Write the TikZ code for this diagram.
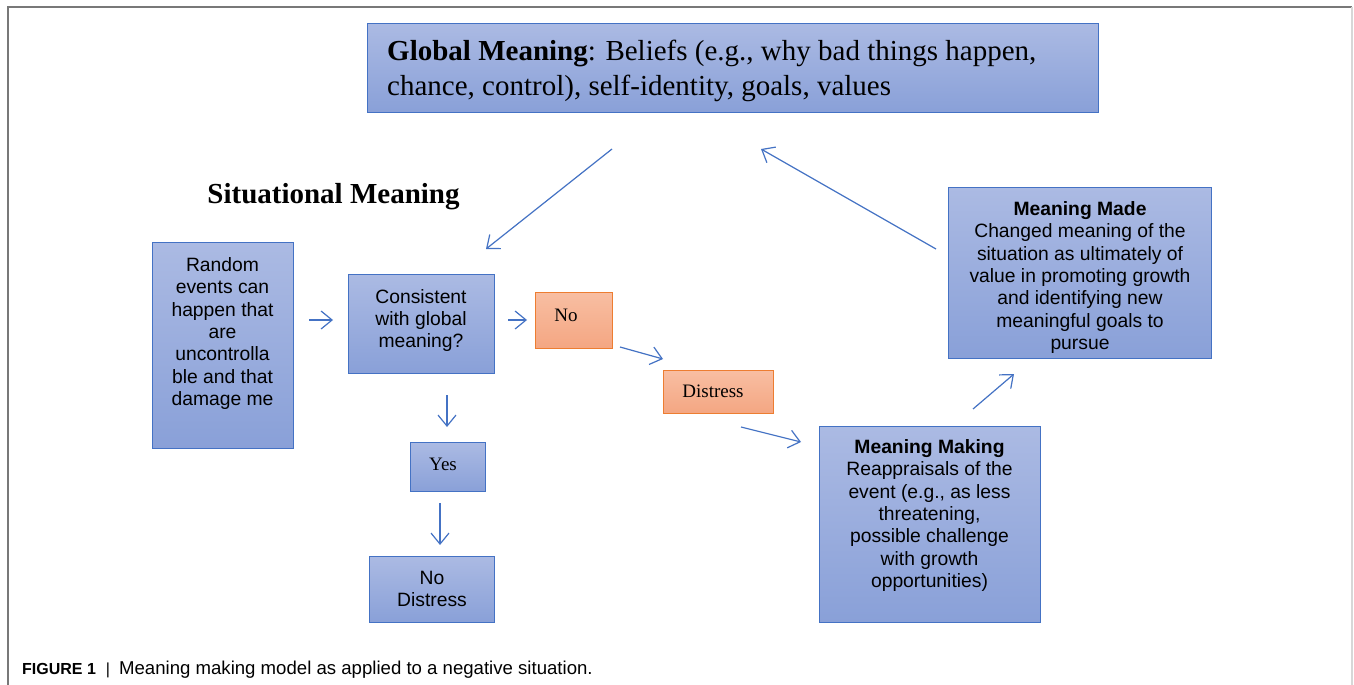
\documentclass[tikz,border=0pt]{standalone}
\usepackage{fontspec}
\usepackage{graphicx}
\setmainfont{Liberation Serif}
\newfontfamily\arialfam{Liberation Sans}
\usetikzlibrary{arrows.meta}
\definecolor{bord}{RGB}{68,114,196}
\definecolor{btop}{RGB}{171,186,227}
\definecolor{bbot}{RGB}{137,160,216}
\definecolor{otop}{RGB}{248,190,162}
\definecolor{obot}{RGB}{244,166,130}
\definecolor{obord}{RGB}{237,125,49}
\definecolor{arrowc}{RGB}{68,114,196}
\definecolor{framec}{RGB}{120,120,120}
\definecolor{framer}{RGB}{215,215,215}
\begin{document}
\begin{tikzpicture}[x=1pt,y=-1pt,
  bluebox/.style={draw=bord, line width=1.2pt, top color=btop, bottom color=bbot, inner sep=0pt, anchor=north west},
  orangebox/.style={draw=obord, line width=1.2pt, top color=otop, bottom color=obot, inner sep=0pt, anchor=north west},
  conn/.style={draw=arrowc, line width=1.2pt, -{Straight Barb[length=11pt,width=18pt,line width=1.2pt]}},
  sanstext/.style={font=\arialfam\fontsize{19.3}{22.4}\selectfont, align=center, inner sep=0pt},
  serifsmall/.style={font=\fontsize{19}{22}\selectfont, inner sep=0pt},
  ]
\useasboundingbox (0,0) rectangle (1354,685);
\fill[white] (0,0) rectangle (1354,685);
% frame
\draw[framec, line width=1.3pt] (8,685) -- (8,7) -- (1352,7);
\draw[framer, line width=1.3pt] (1352,7) -- (1352,685);

% boxes
\node[bluebox, minimum width=731pt, minimum height=89pt] (global) at (367,23) {};
\node[anchor=west, align=left, inner sep=0pt, font=\fontsize{29}{35}\selectfont] (globaltext) at (387,70.5)
  {\textbf{Global Meaning}: Beliefs (e.g., why bad things happen,\\chance, control), self-identity, goals, values};

\node[font=\bfseries\fontsize{29}{34}\selectfont, inner sep=0pt] (situational) at (333.5,197) {Situational Meaning};

\node[bluebox, minimum width=141pt, minimum height=206pt] (random) at (152,242) {};
\node[sanstext] (randomtext) at (222.5,333.5) {Random\\events can\\happen that\\are\\uncontrolla\\ble and that\\damage me};

\node[bluebox, minimum width=146pt, minimum height=99pt] (consistent) at (348,274) {};
\node[sanstext] (consistenttext) at (421,320.5) {Consistent\\with global\\meaning?};

\node[orangebox, minimum width=77pt, minimum height=56pt] (no) at (535,292) {};
\node[serifsmall] (notext) at (566,315) {No};

\node[orangebox, minimum width=110pt, minimum height=43pt] (distress) at (663,370) {};
\node[serifsmall] (distresstext) at (713,391.5) {Distress};

\node[bluebox, minimum width=75pt, minimum height=49pt] (yes) at (410,442) {};
\node[serifsmall] (yestext) at (443,464) {Yes};

\node[bluebox, minimum width=125pt, minimum height=66pt] (nodistress) at (369,556) {};
\node[sanstext] (nodistresstext) at (432,589) {No\\Distress};

\node[bluebox, minimum width=221pt, minimum height=196pt] (making) at (819,426) {};
\node[sanstext] (makingtext) at (929.5,515.5) {\textbf{Meaning Making}\\Reappraisals of the\\event (e.g., as less\\threatening,\\possible challenge\\with growth\\opportunities)};

\node[bluebox, minimum width=263pt, minimum height=171pt] (made) at (948,187) {};
\node[sanstext] (madetext) at (1080,277.5) {\textbf{Meaning Made}\\Changed meaning of the\\situation as ultimately of\\value in promoting growth\\and identifying new\\meaningful goals to\\pursue};

% connector end points
\coordinate (a1s) at (309,320);  \coordinate (a1e) at (333,320);
\coordinate (a2s) at (508,320);  \coordinate (a2e) at (527,320);
\coordinate (a3s) at (447,395);  \coordinate (a3e) at (447,427);
\coordinate (a4s) at (440,503);  \coordinate (a4e) at (440,545);
\coordinate (a5s) at (620,347);  \coordinate (a5e) at (663,359);
\coordinate (a6s) at (741,427);  \coordinate (a6e) at (801,442);
\coordinate (a7s) at (973,409);  \coordinate (a7e) at (1014,374);
\coordinate (a8s) at (936,249);  \coordinate (a8e) at (761,149);
\coordinate (a9s) at (612,149);  \coordinate (a9e) at (486,249);

\draw[conn] (a1s) -- (a1e);
\draw[conn] (a2s) -- (a2e);
\draw[conn] (a3s) -- (a3e);
\draw[conn] (a4s) -- (a4e);
\draw[conn] (a5s) -- (a5e);
\draw[conn] (a6s) -- (a6e);
\draw[conn] (a7s) -- (a7e);
\draw[conn] (a8s) -- (a8e);
\draw[conn] (a9s) -- (a9e);

% caption
\node[anchor=base west, inner sep=0pt] (caption) at (22,674)
  {\arialfam\fontsize{16}{18}\selectfont\textbf{FIGURE 1}\hspace{10pt}|\hspace{9pt}\fontsize{18.6}{20}\selectfont Meaning making model as applied to a negative situation.};
\end{tikzpicture}
\end{document}
